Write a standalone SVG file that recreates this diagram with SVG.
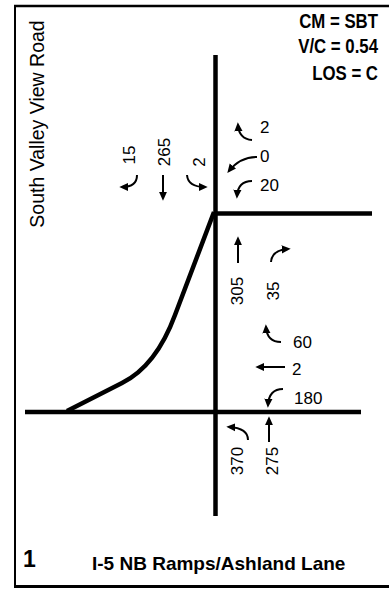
<svg xmlns="http://www.w3.org/2000/svg" width="389" height="589" viewBox="0 0 389 589">
<style>
.road{stroke:#000;stroke-width:4.5;fill:none}
.arr{stroke:#000;stroke-width:2;fill:none;marker-end:url(#ah)}
.num{font-family:"Liberation Sans",Arial,sans-serif;font-size:17px;fill:#000}
.rot{text-anchor:middle}
.hdr{font-family:"Liberation Sans",Arial,sans-serif;font-weight:bold;font-size:21px;text-anchor:end;fill:#000}
</style>
<defs>
<marker id="ah" viewBox="0 0 10 10" refX="7" refY="5" markerWidth="9" markerHeight="9" markerUnits="userSpaceOnUse" orient="auto">
<path d="M0,0.5 L10,5 L0,9.5 z" fill="#000"/>
</marker>
</defs>
<rect x="0" y="0" width="389" height="589" fill="#fff"/>
<g id="frame">
<line x1="15" y1="5" x2="15" y2="587" stroke="#000" stroke-width="2"/>
<line x1="14" y1="6" x2="389" y2="6" stroke="#000" stroke-width="2.5"/>
<line x1="14" y1="586.5" x2="389" y2="586.5" stroke="#000" stroke-width="3"/>
</g>
<g id="roads">
<line class="road" x1="215.5" y1="55" x2="215.5" y2="516"/>
<line class="road" x1="215" y1="213.5" x2="372" y2="213.5"/>
<line class="road" x1="25" y1="412" x2="361" y2="412"/>
<path class="road" d="M214,212 L175,315 C167.6,335 152,368 122,383 L67,411"/>
</g>
<g id="labels">
<text class="hdr" transform="translate(378,28) scale(0.8,1)">CM = SBT</text>
<text class="hdr" transform="translate(378,53) scale(0.8,1)">V/C = 0.54</text>
<text class="hdr" transform="translate(378,80) scale(0.8,1)">LOS = C</text>
<text transform="translate(44,124) rotate(-90)" text-anchor="middle" font-family="'Liberation Sans',Arial,sans-serif" font-size="19.5">South Valley View Road</text>
<text x="23" y="567" font-family="'Liberation Sans',Arial,sans-serif" font-weight="bold" font-size="23">1</text>
<text x="92" y="570" font-family="'Liberation Sans',Arial,sans-serif" font-weight="bold" font-size="19">I-5 NB Ramps/Ashland Lane</text>
</g>
<g id="connectors">
<path class="arr" d="M252,140 Q239,139 238,125"/>
<path class="arr" d="M257,157 Q240,157 229,171"/>
<path class="arr" d="M252,181 Q238,181 237,196"/>
<path class="arr" d="M137,175 Q137,187 122,187"/>
<path class="arr" d="M163,175 L163,198"/>
<path class="arr" d="M187,175 Q188,187 205,187"/>
<path class="arr" d="M238,263 L238,239"/>
<path class="arr" d="M271,262 Q272,250 288,249"/>
<path class="arr" d="M281,342 Q267,342 266,327"/>
<path class="arr" d="M285,367 L258,367"/>
<path class="arr" d="M283,389 Q269,389 268,405"/>
<path class="arr" d="M248,440 Q248,428 229,427"/>
<path class="arr" d="M269,442 L269,419"/>
</g>
<g id="volumes">
<text class="num" x="260" y="133">2</text>
<text class="num" x="260" y="162">0</text>
<text class="num" x="260" y="191">20</text>
<text class="num rot" transform="translate(135,155) rotate(-90)">15</text>
<text class="num rot" transform="translate(170,152) rotate(-90)">265</text>
<text class="num rot" transform="translate(205,162) rotate(-90)">2</text>
<text class="num rot" transform="translate(243,291) rotate(-90)">305</text>
<text class="num rot" transform="translate(279,291) rotate(-90)">35</text>
<text class="num" x="293" y="348">60</text>
<text class="num" x="292" y="375">2</text>
<text class="num" x="294" y="404">180</text>
<text class="num rot" transform="translate(243,461) rotate(-90)">370</text>
<text class="num rot" transform="translate(278,461) rotate(-90)">275</text>
</g>
</svg>
